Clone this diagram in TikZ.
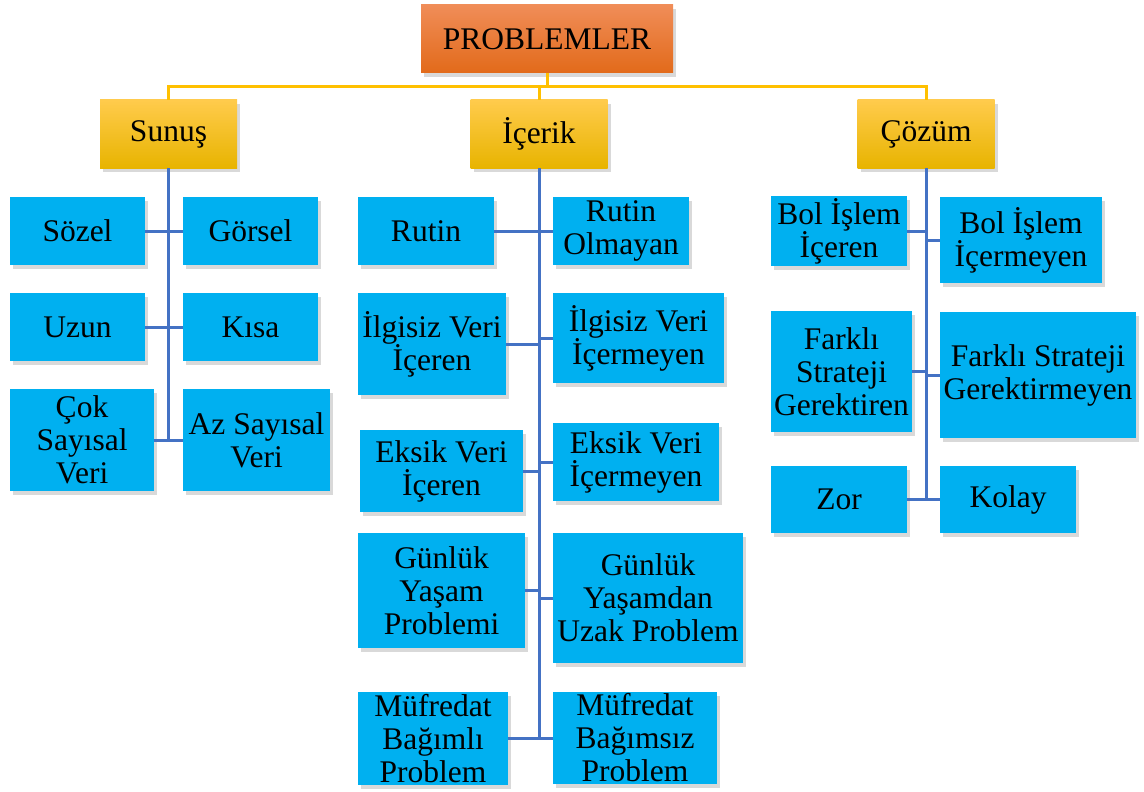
\documentclass[tikz,border=0pt]{standalone}
\usepackage{fontspec}
\setmainfont{Liberation Serif}
\usetikzlibrary{shadows}

\definecolor{kutumavi}{HTML}{00B0F0}
\definecolor{cizgimavi}{HTML}{4472C4}
\definecolor{altin}{HTML}{FFC000}
\definecolor{altinust}{HTML}{FFCB4C}
\definecolor{altinalt}{HTML}{E8B400}
\definecolor{turuncu}{HTML}{F07C24}
\definecolor{turuncuust}{HTML}{F08D58}
\definecolor{turuncualt}{HTML}{E26A1A}

\tikzset{
  golge/.style={drop shadow={shadow xshift=3pt, shadow yshift=-4pt, opacity=0.3}},
  kok/.style={golge, top color=turuncuust, middle color=turuncu, bottom color=turuncualt,
    minimum width=252pt, minimum height=68pt, inner sep=2pt},
  baslik/.style={golge, top color=altinust, middle color=altin, bottom color=altinalt,
    minimum width=137pt, minimum height=68pt, inner sep=2pt},
  alt/.style={golge, fill=kutumavi, align=center, inner sep=2pt},
  ana/.style={altin, line width=3pt},
  bag/.style={cizgimavi, line width=3pt}
}

\begin{document}
\begin{tikzpicture}[x=1pt, y=-1pt, font=\fontsize{31.5}{33}\selectfont]
\useasboundingbox (0,0) rectangle (1144,792);

% ust duzey
\node[kok] (problemler) at (547,39) {PROBLEMLER};
\node[baslik] (sunus) at (168.5,134) {Sunuş};
\node[baslik] (icerik) at (539,134) {İçerik};
\node[baslik] (cozum) at (926,134) {Çözüm};

\coordinate (kol) at (547,87);
\draw[ana] (problemler.south) -- (kol);
\draw[ana] (sunus.north) |- (kol) -| (cozum.north);
\draw[ana] (icerik.north) -- (icerik.north |- kol);

% Sunus
\node[alt, minimum width=135pt, minimum height=68pt] (sozel) at (77.5,231) {Sözel};
\node[alt, minimum width=135pt, minimum height=68pt] (gorsel) at (250.5,231) {Görsel};
\node[alt, minimum width=135pt, minimum height=68pt] (uzun) at (77.5,327) {Uzun};
\node[alt, minimum width=135pt, minimum height=68pt] (kisa) at (250.5,327) {Kısa};
\node[alt, minimum width=144pt, minimum height=102pt] (cok) at (82,440) {Çok\\Sayısal\\Veri};
\node[alt, minimum width=147pt, minimum height=102pt] (az) at (256.5,440) {Az Sayısal\\Veri};

\draw[bag] (sunus.south) -- (sunus.south |- cok.east);
\foreach \sol/\sag in {sozel/gorsel, uzun/kisa, cok/az} {
  \draw[bag] (\sol.east) -- (\sol.east -| sunus.south);
  \draw[bag] (\sag.west) -- (\sag.west -| sunus.south);
}

% Icerik
\node[alt, minimum width=136pt, minimum height=68pt] (rutin) at (426,231) {Rutin};
\node[alt, minimum width=136pt, minimum height=68pt] (rutinol) at (621,231) {Rutin\\Olmayan};
\node[alt, minimum width=148pt, minimum height=102pt] (ilgic) at (432,344) {İlgisiz Veri\\İçeren};
\node[alt, minimum width=171pt, minimum height=90pt] (ilgicm) at (638.5,338) {İlgisiz Veri\\İçermeyen};
\node[alt, minimum width=163pt, minimum height=82pt] (eksic) at (441.5,471) {Eksik Veri\\İçeren};
\node[alt, minimum width=166pt, minimum height=78pt] (eksicm) at (636,462) {Eksik Veri\\İçermeyen};
\node[alt, minimum width=167pt, minimum height=115pt] (gunluk) at (441.5,590.5) {Günlük\\Yaşam\\Problemi};
\node[alt, minimum width=190pt, minimum height=130pt] (gunlukuz) at (648,598) {Günlük\\Yaşamdan\\Uzak Problem};
\node[alt, minimum width=150pt, minimum height=93pt] (mufb) at (433,738.5) {Müfredat\\Bağımlı\\Problem};
\node[alt, minimum width=164pt, minimum height=92pt] (mufbz) at (635,738) {Müfredat\\Bağımsız\\Problem};

\draw[bag] (icerik.south) -- (icerik.south |- mufb.east);
\foreach \sol/\sag in {rutin/rutinol, ilgic/ilgicm, eksic/eksicm, gunluk/gunlukuz, mufb/mufbz} {
  \draw[bag] (\sol.east) -- (\sol.east -| icerik.south);
  \draw[bag] (\sag.west) -- (\sag.west -| icerik.south);
}

% Cozum
\node[alt, minimum width=136pt, minimum height=68pt] (bolic) at (839,231) {Bol İşlem\\İçeren};
\node[alt, minimum width=162pt, minimum height=86pt] (bolicm) at (1021,240) {Bol İşlem\\İçermeyen};
\node[alt, minimum width=141pt, minimum height=121pt] (farkli) at (841.5,371.5) {Farklı\\Strateji\\Gerektiren};
\node[alt, minimum width=196pt, minimum height=126pt] (farklim) at (1038,375) {Farklı Strateji\\Gerektirmeyen};
\node[alt, minimum width=136pt, minimum height=67pt] (zor) at (839,499.5) {Zor};
\node[alt, minimum width=136pt, minimum height=67pt] (kolay) at (1008,499.5) {Kolay};

\draw[bag] (cozum.south) -- (cozum.south |- zor.east);
\foreach \sol/\sag in {bolic/bolicm, farkli/farklim, zor/kolay} {
  \draw[bag] (\sol.east) -- (\sol.east -| cozum.south);
  \draw[bag] (\sag.west) -- (\sag.west -| cozum.south);
}
\end{tikzpicture}
\end{document}
